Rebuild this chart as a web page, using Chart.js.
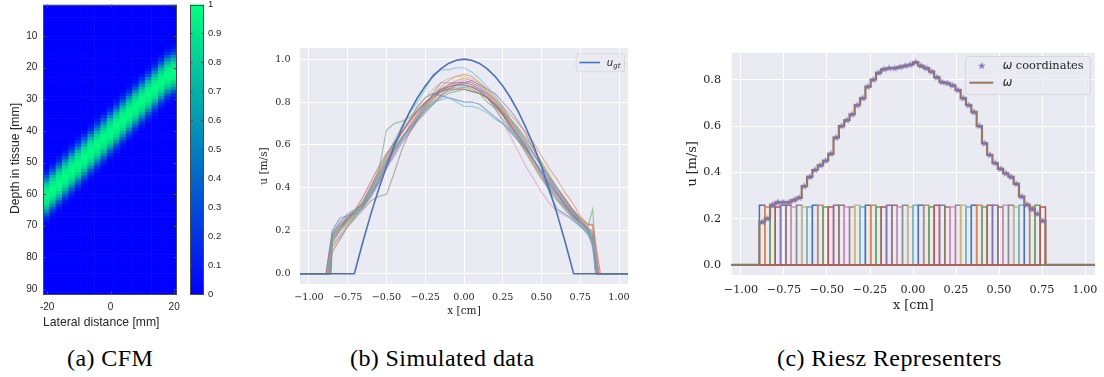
<!DOCTYPE html>
<html><head><meta charset="utf-8">
<script src="https://cdn.jsdelivr.net/npm/chart.js@4.4.1/dist/chart.umd.min.js"></script>
<style>
html,body{margin:0;padding:0;background:#fff;}
body{width:1104px;height:377px;position:relative;overflow:hidden;}
canvas{position:absolute;top:0;}
.cap{position:absolute;top:345px;font-family:"Liberation Serif",serif;font-size:24px;color:#000;white-space:nowrap;letter-spacing:0.4px;line-height:normal;}
</style></head>
<body>
<canvas id="cA" width="186" height="335" style="left:0px"></canvas>
<canvas id="cBar" width="50" height="335" style="left:186px"></canvas>
<canvas id="cB" width="410" height="335" style="left:245px"></canvas>
<canvas id="cC" width="434" height="335" style="left:670px"></canvas>
<div class="cap" style="left:67px">(a) CFM</div>
<div class="cap" style="left:350px">(b) Simulated data</div>
<div class="cap" style="left:777px">(c) Riesz Representers</div>
<script>
// ---------- (a) CFM ----------
const lateralTicks = [-20, 0, 20];
const depthTicks = [10, 20, 30, 40, 50, 60, 70, 80, 90];
const colorbarTicks = [0, 0.1, 0.2, 0.3, 0.4, 0.5, 0.6, 0.7, 0.8, 0.9, 1];
const lateralCols = [-20.3,-18.3,-16.3,-14.3,-12.3,-10.3,-8.3,-6.3,-4.2,-2.2,-0.2,1.8,3.8,5.8,7.8,9.8,11.8,13.9,15.9,17.9,19.9];
const bandCentre = [60.3,58.3,56.4,54.4,52.5,50.5,48.6,46.6,44.6,42.6,40.7,38.7,36.8,34.8,32.9,30.9,29.0,27.0,25.0,23.0,21.1];
const bandProfile = [0.03,0.08,0.18,0.34,0.54,0.72,0.85,0.93,0.97,0.99,0.97,0.93,0.85,0.72,0.54,0.34,0.18,0.08,0.03]; // offsets -9..9 mm
const depthRowCount = 92;

// ---------- (b) Simulated data ----------
const simXTicks = [-1, -0.75, -0.5, -0.25, 0, 0.25, 0.5, 0.75, 1];
const simYTicks = [0, 0.2, 0.4, 0.6, 0.8, 1.0];
const ugtX = [-1.06,-0.707,-0.70,-0.65,-0.60,-0.55,-0.50,-0.45,-0.40,-0.35,-0.30,-0.25,-0.20,-0.15,-0.10,-0.05,0,0.05,0.10,0.15,0.20,0.25,0.30,0.35,0.40,0.45,0.50,0.55,0.60,0.65,0.70,0.707,1.06];
const ugtY = [0,0,0.02,0.155,0.28,0.395,0.5,0.595,0.68,0.755,0.82,0.875,0.92,0.955,0.98,0.995,1.0,0.995,0.98,0.955,0.92,0.875,0.82,0.755,0.68,0.595,0.5,0.395,0.28,0.155,0.02,0,0];
const simGridX = [-0.85,-0.80,-0.75,-0.70,-0.65,-0.60,-0.55,-0.50,-0.45,-0.40,-0.35,-0.30,-0.25,-0.20,-0.15,-0.10,-0.05,0,0.05,0.10,0.15,0.20,0.25,0.30,0.35,0.40,0.45,0.50,0.55,0.60,0.65,0.70,0.75,0.80,0.83];
const run01 = [0.19,0.24,0.27,0.30,0.33,0.39,0.47,0.55,0.62,0.69,0.75,0.80,0.86,0.93,0.95,0.95,0.96,0.96,0.94,0.91,0.87,0.83,0.78,0.72,0.66,0.60,0.53,0.47,0.41,0.35,0.30,0.26,0.22,0.19,0.15];
const run02 = [0.14,0.20,0.24,0.27,0.31,0.37,0.44,0.52,0.58,0.63,0.68,0.73,0.77,0.80,0.81,0.82,0.80,0.78,0.78,0.77,0.75,0.72,0.70,0.67,0.64,0.60,0.55,0.50,0.45,0.40,0.34,0.29,0.25,0.21,0.18];
const run03 = [0.17,0.22,0.26,0.29,0.33,0.40,0.48,0.67,0.70,0.71,0.73,0.76,0.79,0.82,0.85,0.86,0.87,0.87,0.86,0.84,0.80,0.77,0.72,0.67,0.62,0.56,0.50,0.44,0.39,0.34,0.30,0.26,0.23,0.20,0.16];
const run04 = [0.15,0.20,0.25,0.29,0.34,0.40,0.46,0.53,0.60,0.66,0.71,0.75,0.79,0.83,0.87,0.90,0.92,0.93,0.92,0.89,0.86,0.82,0.78,0.74,0.70,0.66,0.61,0.55,0.49,0.44,0.38,0.33,0.27,0.23,0.22];
const run05 = [0.19,0.23,0.26,0.30,0.36,0.43,0.50,0.56,0.61,0.66,0.71,0.76,0.80,0.83,0.85,0.86,0.86,0.86,0.85,0.84,0.82,0.79,0.75,0.71,0.66,0.61,0.56,0.50,0.45,0.40,0.35,0.30,0.26,0.23,0.23];
const run06 = [0.18,0.24,0.28,0.30,0.33,0.38,0.44,0.51,0.58,0.63,0.68,0.73,0.78,0.84,0.89,0.89,0.89,0.89,0.90,0.88,0.86,0.84,0.80,0.76,0.71,0.65,0.58,0.51,0.44,0.38,0.33,0.29,0.25,0.21,0.18];
const run07 = [0.10,0.16,0.22,0.26,0.30,0.34,0.36,0.37,0.47,0.58,0.66,0.72,0.77,0.82,0.85,0.87,0.88,0.88,0.87,0.85,0.82,0.78,0.74,0.69,0.64,0.59,0.53,0.47,0.42,0.37,0.32,0.27,0.23,0.18,0.14];
const run08 = [0.15,0.22,0.27,0.29,0.31,0.36,0.42,0.50,0.57,0.63,0.69,0.74,0.78,0.81,0.84,0.87,0.89,0.90,0.89,0.86,0.82,0.77,0.71,0.64,0.57,0.50,0.44,0.38,0.33,0.29,0.27,0.26,0.24,0.21,0.20];
const run09 = [0.13,0.18,0.23,0.27,0.31,0.36,0.43,0.50,0.56,0.62,0.67,0.72,0.76,0.80,0.83,0.85,0.86,0.87,0.87,0.86,0.84,0.81,0.77,0.72,0.67,0.62,0.56,0.50,0.44,0.39,0.34,0.29,0.25,0.21,0.17];
const run10 = [0.17,0.21,0.24,0.28,0.33,0.39,0.47,0.54,0.61,0.67,0.72,0.77,0.82,0.86,0.89,0.91,0.92,0.92,0.91,0.89,0.85,0.81,0.77,0.72,0.67,0.63,0.58,0.52,0.46,0.40,0.35,0.30,0.26,0.22,0.18];
const run11 = [0.16,0.21,0.26,0.29,0.33,0.39,0.46,0.53,0.60,0.66,0.72,0.78,0.82,0.84,0.83,0.82,0.81,0.80,0.80,0.79,0.76,0.73,0.70,0.66,0.62,0.58,0.53,0.47,0.38,0.30,0.28,0.25,0.22,0.19,0.16];
const run12 = [0.20,0.26,0.27,0.28,0.32,0.37,0.43,0.50,0.57,0.63,0.69,0.74,0.79,0.83,0.86,0.87,0.88,0.88,0.87,0.85,0.82,0.78,0.74,0.69,0.64,0.59,0.53,0.47,0.42,0.37,0.32,0.28,0.24,0.20,0.15];
const run13 = [0.12,0.17,0.22,0.27,0.32,0.39,0.45,0.52,0.58,0.63,0.68,0.72,0.77,0.81,0.85,0.88,0.90,0.91,0.90,0.88,0.85,0.81,0.76,0.70,0.64,0.58,0.52,0.46,0.41,0.36,0.31,0.27,0.24,0.21,0.19];
const run14 = [0.18,0.22,0.25,0.28,0.32,0.37,0.44,0.52,0.59,0.64,0.68,0.72,0.76,0.79,0.82,0.84,0.85,0.86,0.85,0.84,0.82,0.79,0.76,0.72,0.68,0.63,0.58,0.52,0.46,0.40,0.35,0.30,0.25,0.22,0.30];
const run15 = [0.17,0.21,0.25,0.29,0.34,0.41,0.48,0.55,0.61,0.66,0.71,0.76,0.80,0.83,0.86,0.88,0.89,0.89,0.88,0.86,0.83,0.79,0.74,0.68,0.63,0.57,0.51,0.45,0.40,0.35,0.31,0.27,0.24,0.21,0.20];
const run16 = [0.15,0.20,0.24,0.28,0.31,0.36,0.42,0.49,0.55,0.61,0.66,0.71,0.75,0.79,0.83,0.86,0.88,0.89,0.89,0.87,0.84,0.80,0.75,0.70,0.65,0.59,0.53,0.48,0.43,0.38,0.33,0.28,0.24,0.20,0.12];
const simRuns = [run01,run02,run03,run04,run05,run06,run07,run08,run09,run10,run11,run12,run13,run14,run15,run16];
const runStartX = [-0.88,-0.87,-0.86,-0.88,-0.89,-0.87,-0.86,-0.88,-0.87,-0.86,-0.88,-0.89,-0.87,-0.86,-0.88,-0.87];
const runEndX = [0.85,0.86,0.86,0.87,0.88,0.85,0.86,0.87,0.85,0.86,0.86,0.87,0.85,0.86,0.87,0.85];
const runColours = ['#64B5CD','#64B5CD','#55A868','#DD8452','#C44E52','#8172B3','#937860','#DA8BC3','#8C8C8C','#CCB974','#4C72B0','#4C72B0','#DD8452','#55A868','#C44E52','#8172B3'];

// ---------- (c) Riesz Representers ----------
const rieszYTicks = [0, 0.2, 0.4, 0.6, 0.8];
const cellEdges = [-0.893,-0.862,-0.831,-0.801,-0.770,-0.739,-0.708,-0.677,-0.647,-0.616,-0.585,-0.554,-0.523,-0.493,-0.462,-0.431,-0.400,-0.369,-0.339,-0.308,-0.277,-0.246,-0.215,-0.185,-0.154,-0.123,-0.092,-0.061,-0.031,0.000,0.031,0.062,0.093,0.123,0.154,0.185,0.216,0.247,0.277,0.308,0.339,0.370,0.401,0.431,0.462,0.493,0.524,0.555,0.585,0.616,0.647,0.678,0.709,0.739,0.770];
const omegaCoords = [0.185,0.20,0.26,0.27,0.27,0.27,0.28,0.29,0.34,0.38,0.41,0.43,0.45,0.48,0.55,0.60,0.625,0.65,0.69,0.72,0.77,0.80,0.83,0.845,0.85,0.85,0.855,0.86,0.865,0.875,0.86,0.85,0.835,0.81,0.79,0.785,0.775,0.755,0.72,0.69,0.66,0.60,0.525,0.475,0.44,0.415,0.395,0.38,0.35,0.295,0.26,0.24,0.22,0.19];
const basisHeights = [0.258,0.25,0.25,0.25,0.258,0.258,0.25,0.258,0.25,0.25,0.258,0.258,0.25,0.25,0.258,0.258,0.25,0.25,0.258,0.25,0.258,0.258,0.25,0.25,0.258,0.258,0.25,0.258,0.25,0.258,0.258,0.258,0.25,0.258,0.258,0.25,0.25,0.258,0.258,0.25,0.258,0.258,0.25,0.258,0.258,0.25,0.258,0.258,0.25,0.258,0.258,0.25,0.258,0.25];
const deep = ['#4C72B0','#DD8452','#55A868','#C44E52','#8172B3','#937860','#DA8BC3','#8C8C8C','#CCB974','#64B5CD'];

// ---------- helpers ----------
const INK = '#262626';
const rgba = (hex, a) => { const n = parseInt(hex.slice(1), 16); return `rgba(${n >> 16},${(n >> 8) & 255},${n & 255},${a})`; };
const winter = v => `rgb(0,${Math.round(255 * v)},${Math.round(255 - 127.5 * v)})`;
const fmt = d => v => (v < -1e-9 ? '\u2212' : '') + Math.abs(v).toFixed(d);
const fixW = w => s => { s.width = w; s.paddingLeft = s.paddingRight = s.paddingTop = s.paddingBottom = 0; };
const fixH = h => s => { s.height = h; s.paddingLeft = s.paddingRight = s.paddingTop = s.paddingBottom = 0; };
const setTicks = arr => s => { s.ticks = arr.map(v => ({ value: v })); };
const base = pad => ({
  responsive: false, maintainAspectRatio: false, animation: false, devicePixelRatio: 1, events: [],
  layout: { padding: pad },
  plugins: { legend: { display: false }, tooltip: { enabled: false }, title: { display: false } }
});
const bgPlugin = { id: 'bg', beforeDraw(chart) {
  const { ctx, chartArea: a } = chart; ctx.save(); ctx.fillStyle = '#EAEAF2';
  ctx.fillRect(a.left, a.top, a.right - a.left, a.bottom - a.top); ctx.restore(); } };

// ---------- chart A: heatmap ----------
const cellW = 2.01;
const cellData = [];
lateralCols.forEach((lx, c) => {
  for (let r = 0; r < depthRowCount; r++) {
    const dc = r + 0.5;
    const off = Math.round(dc - bandCentre[c]);
    const v = Math.abs(off) <= 9 ? bandProfile[off + 9] : 0;
    cellData.push({ x: lx, y: dc, v });
  }
});
const heatPlugin = { id: 'heat',
  beforeDatasetsDraw(chart) {
    const { ctx, chartArea: a, scales: { x, y } } = chart;
    ctx.save(); ctx.beginPath(); ctx.rect(a.left, a.top, a.right - a.left, a.bottom - a.top); ctx.clip();
    chart.data.datasets[0].data.forEach(p => {
      const x0 = x.getPixelForValue(p.x - cellW / 2), x1 = x.getPixelForValue(p.x + cellW / 2);
      const y0 = y.getPixelForValue(p.y - 0.5), y1 = y.getPixelForValue(p.y + 0.5);
      ctx.fillStyle = winter(p.v);
      ctx.fillRect(Math.min(x0, x1), Math.min(y0, y1), Math.abs(x1 - x0) + 0.6, Math.abs(y1 - y0) + 0.6);
    });
    ctx.restore();
  },
  afterDraw(chart) {
    const { ctx, chartArea: a, scales: { x, y } } = chart;
    ctx.save(); ctx.strokeStyle = '#4a4a4a'; ctx.lineWidth = 1;
    ctx.strokeRect(Math.round(a.left) + 0.5, Math.round(a.top) + 0.5, Math.round(a.right - a.left) - 1, Math.round(a.bottom - a.top) - 1);
    ctx.beginPath();
    depthTicks.forEach(v => { const py = Math.round(y.getPixelForValue(v)) + 0.5;
      ctx.moveTo(a.left, py); ctx.lineTo(a.left + 3, py); ctx.moveTo(a.right, py); ctx.lineTo(a.right - 3, py); });
    lateralTicks.forEach(v => { const px = Math.round(x.getPixelForValue(v)) + 0.5;
      ctx.moveTo(px, a.bottom); ctx.lineTo(px, a.bottom - 3); ctx.moveTo(px, a.top); ctx.lineTo(px, a.top + 3); });
    ctx.stroke();
    ctx.translate(15.3, 158.5); ctx.rotate(-Math.PI / 2);
    ctx.font = '12.2px "Liberation Sans"'; ctx.textAlign = 'center'; ctx.textBaseline = 'middle'; ctx.fillStyle = INK;
    ctx.fillText('Depth in tissue [mm]', 0, 0);
    ctx.restore();
  } };
new Chart(document.getElementById('cA'), {
  type: 'scatter',
  data: { datasets: [{ data: cellData, pointRadius: 0 }] },
  options: Object.assign(base({ left: 0, top: 4.5, right: 9, bottom: 0 }), {
    scales: {
      x: { type: 'linear', min: -21.3, max: 20.9, afterBuildTicks: setTicks(lateralTicks), afterFit: fixH(41),
        grid: { display: false, drawTicks: false }, border: { display: false },
        ticks: { padding: 7.5, color: INK, font: { family: 'Liberation Sans', size: 10 }, maxRotation: 0, autoSkip: false, callback: v => String(v) },
        title: { display: true, text: 'Lateral distance [mm]', align: 'start', color: INK, font: { family: 'Liberation Sans', size: 12.2 }, padding: { top: 0, bottom: 5.2 } } },
      y: { type: 'linear', reverse: true, min: 0, max: 91.6, afterBuildTicks: setTicks(depthTicks), afterFit: fixW(43),
        grid: { display: false, drawTicks: false }, border: { display: false },
        ticks: { padding: 5.7, color: INK, font: { family: 'Liberation Sans', size: 10 }, autoSkip: false, callback: v => String(v) } }
    } }),
  plugins: [heatPlugin]
});

// ---------- colour bar ----------
const barPlugin = { id: 'cbar',
  beforeDatasetsDraw(chart) {
    const { ctx, chartArea: a, scales: { y } } = chart;
    const g = ctx.createLinearGradient(0, y.getPixelForValue(0), 0, y.getPixelForValue(1));
    g.addColorStop(0, winter(0)); g.addColorStop(1, winter(1));
    ctx.save(); ctx.fillStyle = g; ctx.fillRect(a.left, a.top, a.right - a.left, a.bottom - a.top);
    ctx.strokeStyle = '#4a4a4a'; ctx.lineWidth = 1;
    ctx.strokeRect(Math.round(a.left) + 0.5, Math.round(a.top) + 0.5, Math.round(a.right - a.left) - 1, Math.round(a.bottom - a.top) - 1);
    ctx.beginPath();
    colorbarTicks.forEach(v => { const py = Math.round(y.getPixelForValue(v)) + 0.5; ctx.moveTo(a.right, py); ctx.lineTo(a.right - 2.5, py); ctx.moveTo(a.left, py); ctx.lineTo(a.left + 2.5, py); });
    ctx.stroke(); ctx.restore();
  } };
new Chart(document.getElementById('cBar'), {
  type: 'scatter',
  data: { datasets: [{ data: colorbarTicks.map(v => ({ x: 0.5, y: v })), pointRadius: 0 }] },
  options: Object.assign(base({ left: 4, top: 4.5, right: 0, bottom: 41 }), {
    scales: {
      x: { type: 'linear', min: 0, max: 1, display: false },
      y: { type: 'linear', position: 'right', min: 0, max: 1, afterBuildTicks: setTicks(colorbarTicks), afterFit: fixW(32),
        grid: { display: false, drawTicks: false }, border: { display: false },
        ticks: { padding: 4, color: INK, font: { family: 'Liberation Sans', size: 9.5 }, autoSkip: false, callback: v => String(Math.round(v * 10) / 10) } }
    } }),
  plugins: [barPlugin]
});

// ---------- chart B: simulated data ----------
const ugtData = ugtX.map((x, i) => ({ x, y: ugtY[i] }));
const runDatasets = simRuns.map((run, k) => {
  const pts = [{ x: -1.06, y: 0 }, { x: runStartX[k], y: 0 }];
  run.forEach((v, i) => pts.push({ x: simGridX[i], y: v }));
  pts.push({ x: runEndX[k], y: 0 }, { x: 1.06, y: 0 });
  return { data: pts, showLine: true, pointRadius: 0, borderWidth: 1.15, borderColor: rgba(runColours[k], 0.58), order: 1 };
});
const legendB = { id: 'legB', afterDraw(chart) {
  const { ctx, chartArea: a } = chart;
  const bx = a.right - 52.3, by = a.top + 5.3, bw = 48.3, bh = 18;
  ctx.save();
  ctx.beginPath(); ctx.roundRect(bx + 0.5, by + 0.5, bw, bh, 2.5);
  ctx.fillStyle = 'rgba(234,234,242,0.8)'; ctx.fill(); ctx.strokeStyle = 'rgba(204,204,204,0.8)'; ctx.lineWidth = 0.8; ctx.stroke();
  ctx.beginPath(); ctx.moveTo(bx + 3.6, by + 9.2); ctx.lineTo(bx + 24.3, by + 9.2);
  ctx.strokeStyle = '#4C72B0'; ctx.lineWidth = 1.6; ctx.stroke();
  ctx.fillStyle = INK; ctx.textBaseline = 'alphabetic'; ctx.textAlign = 'left';
  ctx.font = 'italic 10px "DejaVu Sans"'; ctx.fillText('u', bx + 31, by + 12.5);
  const w = ctx.measureText('u').width;
  ctx.font = 'italic 7px "DejaVu Sans"'; ctx.fillText('gt', bx + 31 + w + 0.3, by + 14.5);
  ctx.restore(); } };
new Chart(document.getElementById('cB'), {
  type: 'scatter',
  data: { datasets: [{ data: ugtData, showLine: true, pointRadius: 0, borderWidth: 1.6, borderColor: '#4C72B0', order: 0 }, ...runDatasets] },
  options: Object.assign(base({ left: 0, top: 48, right: 27, bottom: 0 }), {
    scales: {
      x: { type: 'linear', min: -1.058, max: 1.058, afterBuildTicks: setTicks(simXTicks), afterFit: fixH(51),
        grid: { color: '#ffffff', lineWidth: 1, drawTicks: false }, border: { display: false },
        ticks: { padding: 7.7, color: INK, font: { family: 'DejaVu Serif', size: 9.6 }, maxRotation: 0, autoSkip: false, callback: fmt(2) },
        title: { display: true, text: 'x [cm]', color: INK, font: { family: 'DejaVu Serif', size: 10.6 }, padding: { top: 0, bottom: 17.6 } } },
      y: { type: 'linear', min: -0.048, max: 1.052, afterBuildTicks: setTicks(simYTicks), afterFit: fixW(55),
        grid: { color: '#ffffff', lineWidth: 1, drawTicks: false }, border: { display: false },
        ticks: { padding: 9.5, color: INK, font: { family: 'DejaVu Serif', size: 9.6 }, autoSkip: false, callback: fmt(1) },
        title: { display: true, text: 'u [m/s]', color: INK, font: { family: 'DejaVu Serif', size: 10.6 }, padding: { top: 13.1, bottom: 0 } } }
    } }),
  plugins: [bgPlugin, legendB]
});

// ---------- chart C: Riesz representers ----------
function makeStar(r, colour) {
  const c = document.createElement('canvas'); const s = Math.ceil(r * 2 + 2); c.width = s; c.height = s;
  const g = c.getContext('2d'); g.translate(s / 2, s / 2); g.beginPath();
  for (let i = 0; i < 10; i++) { const rr = i % 2 ? r * 0.4 : r; const ang = -Math.PI / 2 + i * Math.PI / 5;
    g.lineTo(rr * Math.cos(ang), rr * Math.sin(ang)); }
  g.closePath(); g.fillStyle = colour; g.fill(); return c;
}
const starImg = makeStar(3.9, '#8172B3');
const starData = omegaCoords.map((v, i) => ({ x: (cellEdges[i] + cellEdges[i + 1]) / 2, y: v }));
const omegaPts = [{ x: -1.06, y: 0 }, { x: cellEdges[0], y: 0 }];
omegaCoords.forEach((v, i) => omegaPts.push({ x: cellEdges[i], y: v }, { x: cellEdges[i + 1], y: v }));
omegaPts.push({ x: cellEdges[cellEdges.length - 1], y: 0 }, { x: 1.06, y: 0 });
const basisDatasets = basisHeights.map((h, i) => ({
  data: [{ x: -1.06, y: 0 }, { x: cellEdges[i], y: 0 }, { x: cellEdges[i], y: h }, { x: cellEdges[i + 1], y: h }, { x: cellEdges[i + 1], y: 0 }, { x: 1.06, y: 0 }],
  showLine: true, pointRadius: 0, borderWidth: 1.5, borderColor: deep[i % 10], order: 100 + (basisHeights.length - 1 - i)
}));
const legendC = { id: 'legC', afterDraw(chart) {
  const { ctx, chartArea: a } = chart;
  const bx = a.right - 130, by = a.top + 3.3, bw = 125, bh = 38;
  ctx.save();
  ctx.beginPath(); ctx.roundRect(bx + 0.5, by + 0.5, bw, bh, 3);
  ctx.fillStyle = 'rgba(234,234,242,0.8)'; ctx.fill(); ctx.strokeStyle = 'rgba(204,204,204,0.8)'; ctx.lineWidth = 0.8; ctx.stroke();
  ctx.drawImage(starImg, bx + 16.7 - starImg.width / 2, by + 10 - starImg.height / 2);
  ctx.beginPath(); ctx.moveTo(bx + 4.3, by + 26.7); ctx.lineTo(bx + 28.3, by + 26.7);
  ctx.strokeStyle = '#937860'; ctx.lineWidth = 2; ctx.stroke();
  ctx.fillStyle = INK; ctx.textBaseline = 'middle'; ctx.textAlign = 'left';
  ctx.font = 'italic 11.4px "DejaVu Sans"'; ctx.fillText('\u03c9', bx + 37.7, by + 10.5);
  const w = ctx.measureText('\u03c9').width;
  ctx.font = '11.4px "DejaVu Serif"'; ctx.fillText(' coordinates', bx + 37.7 + w, by + 10.5);
  ctx.font = 'italic 11.4px "DejaVu Sans"'; ctx.fillText('\u03c9', bx + 37.7, by + 27);
  ctx.restore(); } };
new Chart(document.getElementById('cC'), {
  type: 'scatter',
  data: { datasets: [
    { data: starData, pointStyle: starImg, pointRadius: 4, showLine: false, order: 0 },
    { data: omegaPts, showLine: true, pointRadius: 0, borderWidth: 2.2, borderColor: '#937860', order: 1 },
    ...basisDatasets] },
  options: Object.assign(base({ left: 0, top: 52.7, right: 9, bottom: 0 }), {
    scales: {
      x: { type: 'linear', min: -1.054, max: 1.058, afterBuildTicks: setTicks(simXTicks), afterFit: fixH(60),
        grid: { color: '#ffffff', lineWidth: 1, drawTicks: false }, border: { display: false },
        ticks: { padding: 8.8, color: INK, font: { family: 'DejaVu Serif', size: 11.2 }, maxRotation: 0, autoSkip: false, callback: fmt(2) },
        title: { display: true, text: 'x [cm]', color: INK, font: { family: 'DejaVu Serif', size: 12.8 }, padding: { top: 0, bottom: 21.3 } } },
      y: { type: 'linear', min: -0.0437, max: 0.917, afterBuildTicks: setTicks(rieszYTicks), afterFit: fixW(61.7),
        grid: { color: '#ffffff', lineWidth: 1, drawTicks: false }, border: { display: false },
        ticks: { padding: 10.7, color: INK, font: { family: 'DejaVu Serif', size: 11.2 }, autoSkip: false, callback: fmt(1) },
        title: { display: true, text: 'u [m/s]', color: INK, font: { family: 'DejaVu Serif', size: 12.8 }, padding: { top: 14.8, bottom: 0 } } }
    } }),
  plugins: [bgPlugin, legendC]
});
</script>
</body></html>
